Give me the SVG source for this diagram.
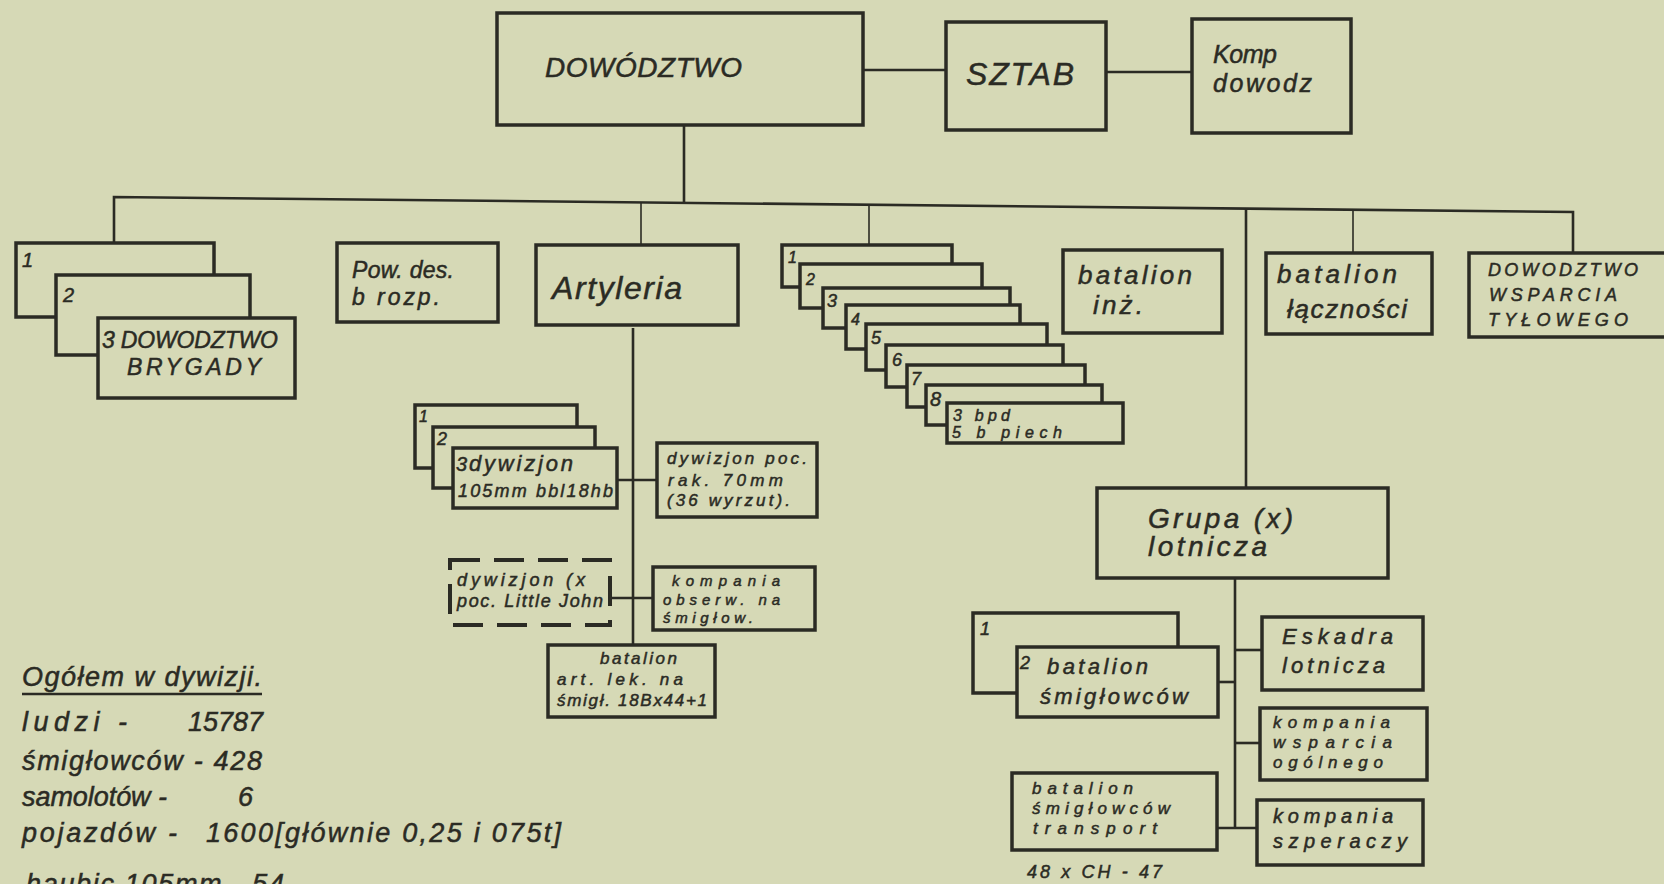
<svg xmlns="http://www.w3.org/2000/svg" width="1664" height="884" viewBox="0 0 1664 884">
<style>
.bg{fill:#d6d9b6}
.b{fill:#d6d9b6;stroke:#2b2b24;stroke-width:3.5}
.bd{fill:none;stroke:#2b2b24;stroke-width:4;stroke-dasharray:30 14}
.c{fill:none;stroke:#2b2b24;stroke-width:2.6}
.ct{fill:none;stroke:#2b2b24;stroke-width:1.6}
text{font-family:"Liberation Sans",Arial,sans-serif;font-style:italic;fill:#2b2b24;stroke:#2b2b24;stroke-width:0.5}
.s32{font-size:32px}.s28{font-size:28px}.s26{font-size:26px}.s25{font-size:25px}.s23{font-size:23px}.s22{font-size:22px}.s20{font-size:20px}.s18{font-size:18px}.s17{font-size:17px}.s16{font-size:16px}.s15{font-size:15px}.s27{font-size:27px}
</style>
<rect class="bg" x="0" y="0" width="1664" height="884"/>
<g id="connectors">
<path class="c" d="M114,243 V197 L1573,212 V253"/>
<path class="c" d="M684,125 V203"/>
<path class="ct" d="M641,202 V245"/>
<path class="ct" d="M869,205 V245"/>
<path class="c" d="M1246,209 V488"/>
<path class="ct" d="M1353,210 V253"/>
<path class="c" d="M863,70 H946"/>
<path class="c" d="M1106,72 H1192"/>
<path class="c" d="M633,328 V645"/>
<path class="c" d="M617,480 H657"/>
<path class="c" d="M610,598 H653"/>
<path class="c" d="M1235,578 V828"/>
<path class="c" d="M1235,650 H1262"/>
<path class="c" d="M1218,682 H1235"/>
<path class="c" d="M1235,743 H1260"/>
<path class="c" d="M1217,828 H1257"/>
</g>
<g id="dowodztwo"><rect class="b" x="497" y="13" width="366" height="112"/><text class="s28" x="545" y="77" textLength="197">DOWÓDZTWO</text></g>
<g id="sztab"><rect class="b" x="946" y="22" width="160" height="108"/><text class="s32" x="966" y="85" textLength="108">SZTAB</text></g>
<g id="komp"><rect class="b" x="1192" y="19" width="159" height="114"/><text class="s25" x="1213" y="63" textLength="64">Komp</text><text class="s25" x="1213" y="92" textLength="99">dowodz</text></g>
<g id="brygady">
<rect class="b" x="16" y="243" width="198" height="74"/><text class="s20" x="22" y="267">1</text>
<rect class="b" x="56" y="275" width="194" height="80"/><text class="s20" x="63" y="302">2</text>
<rect class="b" x="98" y="318" width="197" height="80"/><text class="s23" x="102" y="348" textLength="176">3 DOWODZTWO</text><text class="s23" x="127" y="375" textLength="134">BRYGADY</text>
</g>
<g id="pow-des"><rect class="b" x="337" y="243" width="161" height="79"/><text class="s23" x="352" y="278" textLength="102">Pow. des.</text><text class="s23" x="352" y="305" textLength="88">b rozp.</text></g>
<g id="artyleria"><rect class="b" x="536" y="245" width="202" height="80"/><text class="s32" x="552" y="299" textLength="130">Artyleria</text></g>
<g id="dywizjon-105">
<rect class="b" x="415" y="405" width="162" height="63"/><text class="s16" x="419" y="422">1</text>
<rect class="b" x="433" y="427" width="162" height="61"/><text class="s18" x="437" y="445">2</text>
<rect class="b" x="453" y="448" width="164" height="60"/><text class="s20" x="456" y="471">3</text><text class="s22" x="469" y="471" textLength="104">dywizjon</text><text class="s18" x="458" y="497" textLength="155">105mm bbl18hb</text>
</g>
<g id="dywizjon-rak"><rect class="b" x="657" y="443" width="160" height="74"/><text class="s17" x="667" y="464" textLength="140">dywizjon poc.</text><text class="s17" x="668" y="486" textLength="115">rak. 70mm</text><text class="s17" x="667" y="506" textLength="123">(36 wyrzut).</text></g>
<g id="little-john"><rect class="bd" x="450" y="560" width="160" height="65"/><text class="s18" x="457" y="586" textLength="128">dywizjon (x</text><text class="s18" x="457" y="607" textLength="146">poc. Little John</text></g>
<g id="kompania-obs"><rect class="b" x="653" y="567" width="162" height="63"/><text class="s15" x="672" y="586" textLength="108">kompania</text><text class="s15" x="663" y="605" textLength="117">obserw. na</text><text class="s15" x="663" y="623" textLength="90">śmigłow.</text></g>
<g id="batalion-art"><rect class="b" x="548" y="645" width="167" height="72"/><text class="s17" x="600" y="664" textLength="77">batalion</text><text class="s17" x="557" y="685" textLength="126">art. lek. na</text><text class="s17" x="557" y="706" textLength="150">śmigł. 18Bx44+1</text></g>
<g id="bpd">
<rect class="b" x="782" y="245" width="170" height="42"/><text class="s16" x="788" y="263">1</text>
<rect class="b" x="800" y="264" width="182" height="44"/><text class="s16" x="806" y="285">2</text>
<rect class="b" x="823" y="288" width="187" height="40"/><text class="s18" x="827" y="307">3</text>
<rect class="b" x="846" y="305" width="174" height="44"/><text class="s16" x="851" y="325">4</text>
<rect class="b" x="866" y="324" width="181" height="46"/><text class="s18" x="871" y="344">5</text>
<rect class="b" x="886" y="345" width="177" height="42"/><text class="s18" x="892" y="366">6</text>
<rect class="b" x="907" y="365" width="178" height="42"/><text class="s18" x="911" y="385">7</text>
<rect class="b" x="926" y="385" width="176" height="40"/><text class="s20" x="930" y="406">8</text>
<rect class="b" x="947" y="403" width="176" height="40"/><text class="s16" x="953" y="421" textLength="57">3 bpd</text><text class="s16" x="952" y="438" textLength="110">5 b piech</text>
</g>
<g id="batalion-inz"><rect class="b" x="1063" y="250" width="159" height="83"/><text class="s26" x="1078" y="284" textLength="114">batalion</text><text class="s26" x="1093" y="314" textLength="50">inż.</text></g>
<g id="batalion-lacznosci"><rect class="b" x="1266" y="253" width="166" height="81"/><text class="s26" x="1277" y="283" textLength="120">batalion</text><text class="s26" x="1287" y="318" textLength="120">łączności</text></g>
<g id="dowodztwo-wsparcia"><rect class="b" x="1469" y="253" width="210" height="84"/><text class="s18" x="1488" y="276" textLength="150">DOWODZTWO</text><text class="s18" x="1489" y="301" textLength="128">WSPARCIA</text><text class="s18" x="1488" y="326" textLength="140">TYŁOWEGO</text></g>
<g id="grupa-lotnicza"><rect class="b" x="1097" y="488" width="291" height="90"/><text class="s28" x="1148" y="528" textLength="145">Grupa (x)</text><text class="s28" x="1148" y="556" textLength="119">lotnicza</text></g>
<g id="batalion-smiglowcow">
<rect class="b" x="973" y="613" width="205" height="80"/><text class="s18" x="980" y="635">1</text>
<rect class="b" x="1017" y="647" width="201" height="70"/><text class="s18" x="1020" y="669">2</text><text class="s22" x="1047" y="674" textLength="101">batalion</text><text class="s22" x="1040" y="704" textLength="148">śmigłowców</text>
</g>
<g id="eskadra"><rect class="b" x="1262" y="617" width="161" height="73"/><text class="s22" x="1282" y="644" textLength="111">Eskadra</text><text class="s22" x="1282" y="673" textLength="103">lotnicza</text></g>
<g id="kompania-wsparcia"><rect class="b" x="1260" y="708" width="167" height="72"/><text class="s17" x="1273" y="728" textLength="117">kompania</text><text class="s17" x="1273" y="748" textLength="119">wsparcia</text><text class="s17" x="1273" y="768" textLength="110">ogólnego</text></g>
<g id="batalion-transport"><rect class="b" x="1012" y="773" width="205" height="77"/><text class="s17" x="1032" y="794" textLength="101">batalion</text><text class="s17" x="1032" y="814" textLength="138">śmigłowców</text><text class="s17" x="1033" y="834" textLength="124">transport</text><text class="s18" x="1027" y="878" textLength="135">48 x CH - 47</text></g>
<g id="kompania-szperaczy"><rect class="b" x="1257" y="800" width="166" height="65"/><text class="s20" x="1273" y="823" textLength="120">kompania</text><text class="s20" x="1273" y="848" textLength="134">szperaczy</text></g>
<g id="ogolem">
<text class="s27" x="22" y="686" textLength="240">Ogółem w dywizji.</text>
<path class="c" d="M22,694 H262"/>
<text class="s27" x="22" y="731" textLength="105">ludzi -</text><text class="s27" x="188" y="731" textLength="75">15787</text>
<text class="s27" x="22" y="770" textLength="240">śmigłowców - 428</text>
<text class="s27" x="22" y="806" textLength="145">samolotów -</text><text class="s27" x="238" y="806">6</text>
<text class="s27" x="22" y="842" textLength="155">pojazdów -</text><text class="s27" x="206" y="842" textLength="355">1600[głównie 0,25 i 075t]</text>
<text class="s27" x="26" y="893" textLength="258">haubic 105mm - 54</text>
</g>
</svg>
